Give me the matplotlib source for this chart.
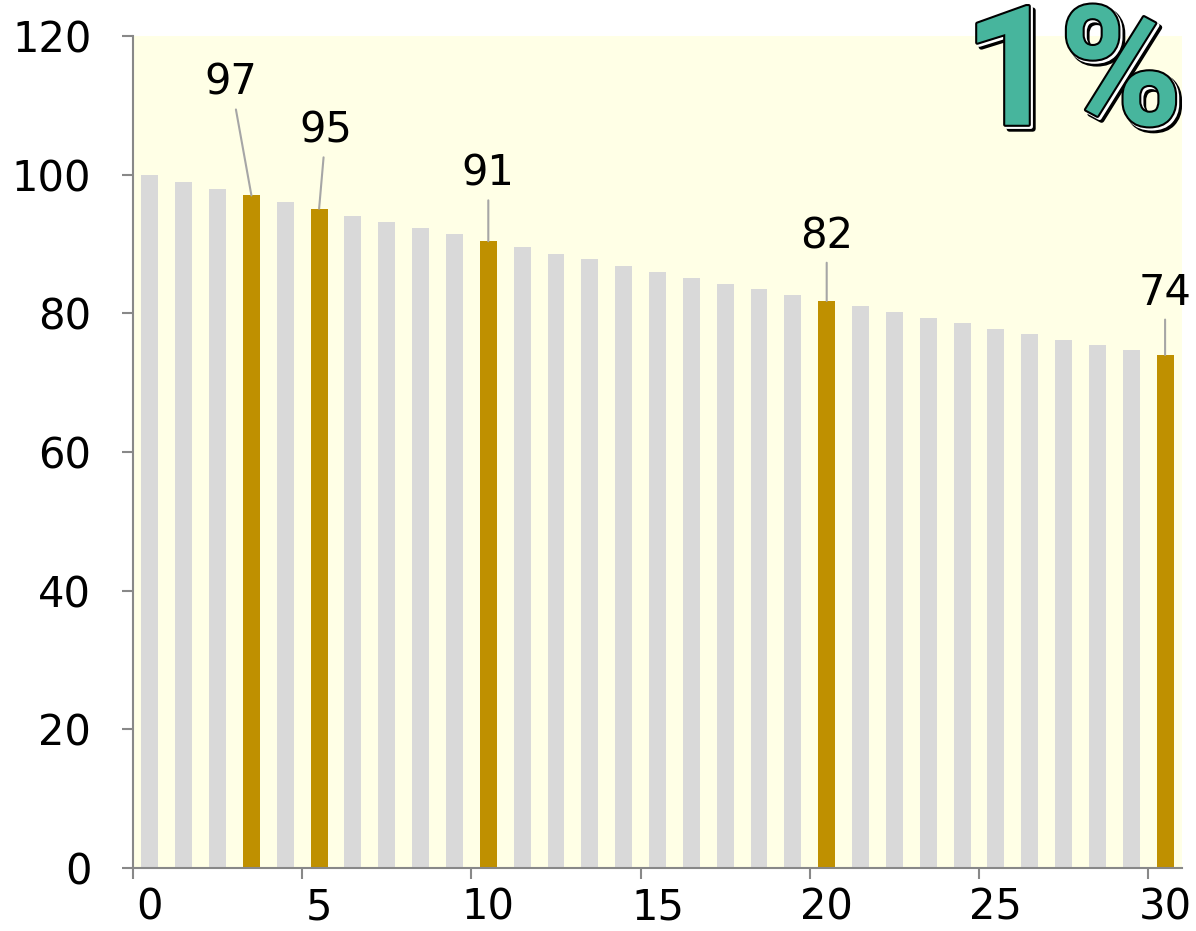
import matplotlib.pyplot as plt
import matplotlib.patheffects as pe
import numpy as np

## Values (100 with 1% loss per step)
years = list(range(31))
values = [100.0, 99.0, 98.0, 97.0, 96.1, 95.1, 94.1, 93.2, 92.3, 91.4,
          90.4, 89.5, 88.6, 87.8, 86.9, 86.0, 85.1, 84.3, 83.5, 82.6,
          81.8, 81.0, 80.2, 79.4, 78.6, 77.8, 77.0, 76.2, 75.5, 74.7, 74.0]
marked = [3, 5, 10, 20, 30]
marked_labels = ["97", "95", "91", "82", "74"]
# label positions (data units) for the callouts
label_pos = [(2.4, 111.5), (5.2, 104.6), (10.0, 98.4), (20.0, 89.4), (30.0, 81.2)]

xticks = [0, 5, 10, 15, 20, 25, 30]
yticks = [0, 20, 40, 60, 80, 100, 120]

plt.rcParams['font.family'] = ['DejaVu Sans']

fig = plt.figure(figsize=(11.96, 9.31), dpi=100)
ax = fig.add_axes([0.1112, 0.0677, 0.8771, 0.8936])
ax.set_facecolor('#FFFFE6')

colors = ['#BF9000' if x in marked else '#D9D9D9' for x in years]
ax.bar(years, values, width=0.5, color=colors, zorder=2)

ax.set_xlim(-0.5, 30.5)
ax.set_ylim(0, 120)

for i, txt, (lx, ly) in zip(marked, marked_labels, label_pos):
    ax.annotate(txt, xy=(i, values[i]), xytext=(lx, ly),
                ha='center', va='baseline', fontsize=30,
                arrowprops=dict(arrowstyle='-', color='#A6A6A6', lw=1.5,
                                shrinkA=2, shrinkB=0))

ax.set_xticks(xticks)
ax.set_xticklabels([str(t) for t in xticks])
ax.set_xticks(np.arange(-0.5, 30.6, 5), minor=True)
ax.tick_params(axis='x', which='major', length=0, pad=13, labelsize=30)
ax.tick_params(axis='x', which='minor', length=8, width=1.5, color='#888888')
ax.set_yticks(yticks)
ax.tick_params(axis='y', length=8, width=1.5, color='#888888', pad=22, labelsize=30)

for s in ['top', 'right']:
    ax.spines[s].set_visible(False)
for s in ['left', 'bottom']:
    ax.spines[s].set_color('#888888')
    ax.spines[s].set_linewidth(1.5)

fig.text(0.897, 0.866, "1%", fontsize=120, fontweight='bold', color='#47B59D',
         family='Roboto', ha='center', va='baseline',
         path_effects=[pe.Stroke(linewidth=4, foreground='black', offset=(3, -3)),
                       pe.Stroke(linewidth=3, foreground='white', offset=(1.5, -1.5)),
                       pe.Stroke(linewidth=3, foreground='black'),
                       pe.Normal()])

plt.savefig('out.png', dpi=100)
